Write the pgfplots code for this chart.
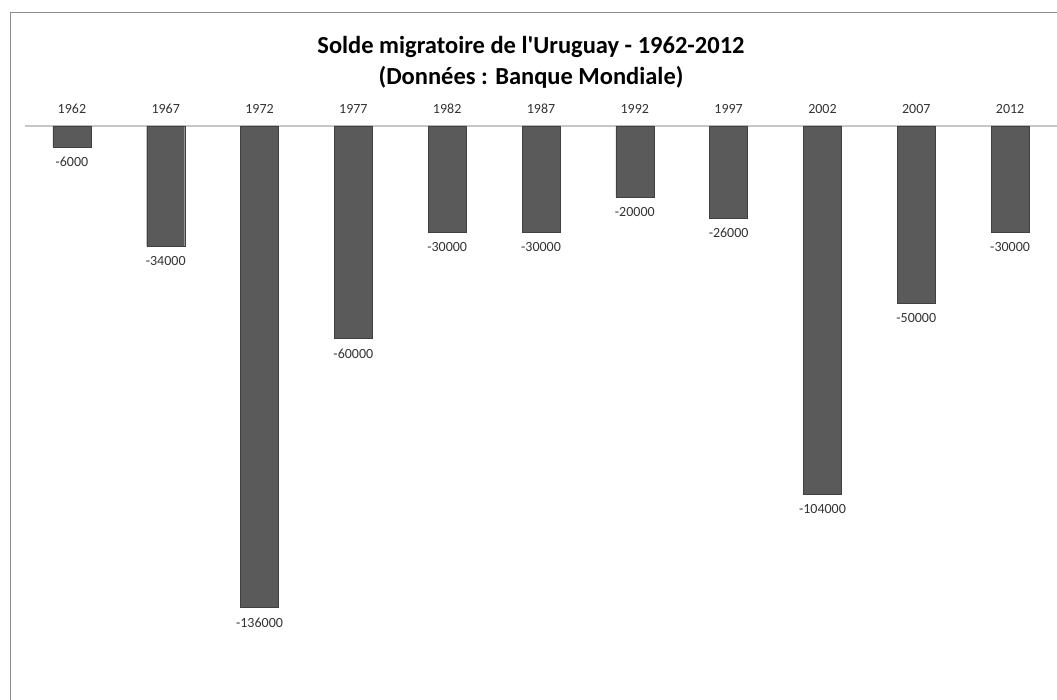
\documentclass[border=0pt]{standalone}
\usepackage{fontspec}
\setmainfont{Carlito}
\usepackage{pgfplots}
\pgfplotsset{compat=1.18}
\definecolor{barfill}{HTML}{5A5A5A}
\begin{document}
\begin{tikzpicture}
\useasboundingbox (0,0) rectangle (1057bp,700bp);
\draw[black!45, line width=1bp] (10.5bp,0) -- (10.5bp,687.5bp) -- (1057bp,687.5bp);
\node[font=\fontsize{24.5bp}{31bp}\selectfont\bfseries, align=center] at (531bp,638bp)
  {Solde migratoire de l\textquotesingle Uruguay - 1962-2012\\(Données : Banque Mondiale)};
\begin{axis}[
at={(25bp,7.6bp)}, anchor=south west,
scale only axis, width=1032bp, height=566.4bp,
xmin=-0.5, xmax=10.5, ymin=-160000, ymax=0,
axis x line*=top, axis y line=none,
x axis line style={draw=black!22, line width=1.5bp, -},
xtick={0,...,10},
xticklabels={1962,1967,1972,1977,1982,1987,1992,1997,2002,2007,2012},
xtick style={draw=none},
xticklabel style={font=\fontsize{14bp}{16bp}\selectfont, text=black!80, yshift=9bp},
ytick=\empty,
point meta=explicit symbolic,
nodes near coords,
nodes near coords style={anchor=north, inner sep=0pt, yshift=-10bp,
  font=\fontsize{14bp}{16bp}\selectfont, text=black!80},
]
\addplot[ybar, bar width=38bp, draw=black!75, fill=barfill]
coordinates {(0,-6000)[-6000] (1,-34000)[-34000] (2,-136000)[-136000] (3,-60000)[-60000]
(4,-30000)[-30000] (5,-30000)[-30000] (6,-20000)[-20000] (7,-26000)[-26000]
(8,-104000)[-104000] (9,-50000)[-50000] (10,-30000)[-30000]};
\end{axis}
\end{tikzpicture}
\end{document}
